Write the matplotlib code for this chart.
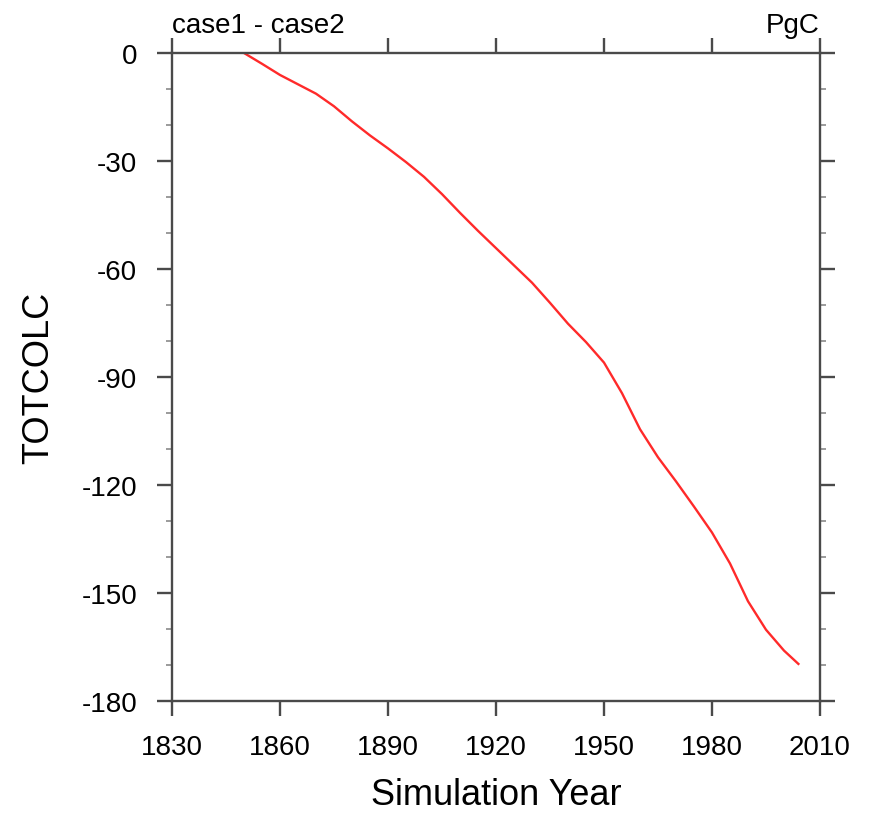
import numpy as np
import matplotlib.pyplot as plt
from matplotlib.ticker import MultipleLocator

plt.rcParams['font.family'] = ['Liberation Sans', 'DejaVu Sans']
plt.rcParams['axes.unicode_minus'] = False

# years and TOTCOLC difference (PgC)
years = [1850, 1855, 1860, 1865, 1870, 1875, 1880, 1885, 1890, 1895,
         1900, 1905, 1910, 1915, 1920, 1925, 1930, 1935, 1940, 1945,
         1950, 1955, 1960, 1965, 1970, 1975, 1980, 1985, 1990, 1995,
         2000, 2004]
totcolc = [0.0, -3.0, -6.1, -8.7, -11.3, -14.8, -19.0, -22.9, -26.5, -30.3,
           -34.4, -39.2, -44.4, -49.4, -54.2, -59.0, -63.8, -69.4, -75.2, -80.3,
           -86.0, -94.5, -104.5, -112.3, -119.0, -126.0, -133.2, -141.8, -152.3, -160.2,
           -166.0, -169.7]

xticks = [1830, 1860, 1890, 1920, 1950, 1980, 2010]
yticks = [0, -30, -60, -90, -120, -150, -180]

fig = plt.figure(figsize=(8.69, 8.2), dpi=100)
ax = fig.add_axes([172/869, 1 - 702/820, (820 - 172)/869, (702 - 54)/820])

ax.plot(years, totcolc, color='#ff2a2a', lw=1.7, solid_joinstyle='round')

ax.set_xlim(1830, 2010)
ax.set_ylim(-180, 0)
ax.set_xticks(xticks)
ax.set_yticks(yticks)
ax.yaxis.set_minor_locator(MultipleLocator(10))

spine_col = '#4a4a4a'
for s in ax.spines.values():
    s.set_color(spine_col)
    s.set_linewidth(1.7)

ax.tick_params(axis='both', which='major', direction='out', length=11, width=1.7,
               color=spine_col, labelsize=20, top=True, right=True)
ax.tick_params(axis='x', which='major', pad=13)
ax.tick_params(axis='y', which='major', pad=14)
ax.tick_params(axis='y', which='minor', direction='out', length=4, width=1.2,
               color='#8a8a8a', left=True, right=True)
ax.tick_params(axis='x', which='minor', bottom=False, top=False)

ax.set_xlabel('Simulation Year', fontsize=26, labelpad=12)
ax.set_ylabel('TOTCOLC', fontsize=26, labelpad=18)

ax.annotate('case1 - case2', xy=(0, 1), xycoords='axes fraction',
            xytext=(0, 15), textcoords='offset points', ha='left', va='baseline',
            fontsize=20)
ax.annotate('PgC', xy=(1, 1), xycoords='axes fraction',
            xytext=(0, 15), textcoords='offset points', ha='right', va='baseline',
            fontsize=20)

fig.savefig('out.png', dpi=100)
